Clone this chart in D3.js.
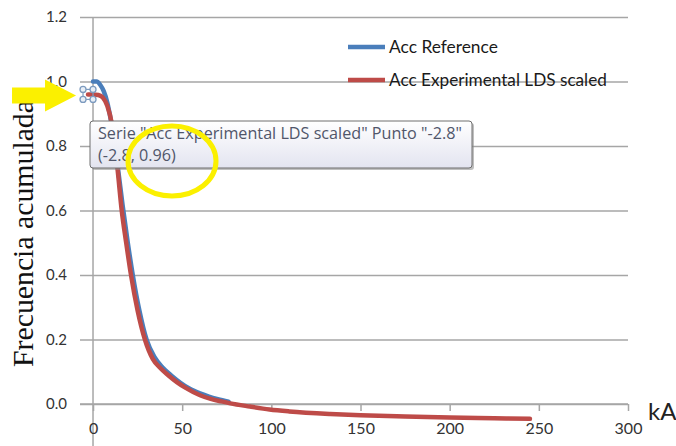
<!DOCTYPE html>
<html>
<head>
<meta charset="utf-8">
<script src="https://cdn.jsdelivr.net/npm/d3@7"></script>
<style>
  html, body { margin: 0; padding: 0; background: #fff; }
  svg { display: block; }
</style>
</head>
<body>
<svg id="chart" width="676" height="446"></svg>
<script>
// ---- data ----
const refX = [0, 2, 4, 6, 8, 10, 12, 14, 16.5, 19.5, 22.3, 26, 30, 34.5, 39, 44, 49, 54, 60, 65, 70, 76];
const refY = [1.0, 1.0, 0.99, 0.97, 0.935, 0.88, 0.81, 0.73, 0.62, 0.50, 0.40, 0.29, 0.20, 0.145, 0.113, 0.088, 0.066, 0.048, 0.033, 0.023, 0.015, 0.007];

const expX = [-2.8, 0, 3, 5.5, 8, 10.5, 12.3, 13.8, 16.1, 18.6, 21.3, 25, 29.1, 33.5, 38, 42, 47, 52, 60, 66, 72, 77, 88, 99, 110, 133, 150, 175, 200, 225, 245];
const expY = [0.96, 0.96, 0.958, 0.95, 0.925, 0.87, 0.80, 0.726, 0.60, 0.50, 0.40, 0.29, 0.20, 0.14, 0.11, 0.09, 0.068, 0.05, 0.027, 0.016, 0.008, 0.002, -0.008, -0.017, -0.023, -0.031, -0.035, -0.039, -0.042, -0.044, -0.046];

const xTicks = [0, 50, 100, 150, 200, 250, 300];
const yTicks = [0.0, 0.2, 0.4, 0.6, 0.8, 1.0, 1.2];
const yTickLabels = ["0.0", "0.2", "0.4", "0.6", "0.8", "1.0", "1.2"];

const seriesNames = ["Acc Reference", "Acc Experimental LDS scaled"];
const seriesColors = ["#4a7ebb", "#be4b48"];
const selectedPoint = { x: -2.8, y: 0.96 };
const tooltipLines = ['Serie "Acc Experimental LDS scaled" Punto "-2.8"', '(-2.8, 0.96)'];
const yTitle = "Frecuencia acumulada";
const xTitle = "kA";

// ---- layout ----
const svg = d3.select("#chart");
const plotLeft = 80, plotRight = 628;
const x = d3.scaleLinear().domain([-7.3, 300]).range([plotLeft, plotRight]);
const y = d3.scaleLinear().domain([-0.2, 1.2]).range([468.5, 17]);

const gridColor = "#a6a6a6";
const labelFont = "Lato, 'Open Sans', sans-serif";

function fitWidth(sel, target) {
  const w = sel.node().getComputedTextLength();
  const fs = parseFloat(sel.attr("font-size"));
  sel.attr("font-size", (fs * target / w).toFixed(2));
}

// horizontal gridlines + y tick labels via axis
const yAxis = d3.axisLeft(y)
  .tickValues(yTicks)
  .tickFormat((d, i) => yTickLabels[i])
  .tickSizeInner(-(plotRight - plotLeft))
  .tickSizeOuter(0)
  .tickPadding(13);
const gy = svg.append("g").attr("transform", `translate(${plotLeft},0)`).call(yAxis);
gy.select(".domain").remove();
gy.selectAll(".tick line").attr("stroke", gridColor).attr("stroke-width", 1.5);
gy.selectAll(".tick text")
  .attr("font-family", labelFont).attr("font-size", 15).attr("fill", "#333");

// vertical zero line (y axis)
svg.append("line")
  .attr("x1", x(0)).attr("x2", x(0))
  .attr("y1", y(1.2)).attr("y2", 446)
  .attr("stroke", gridColor).attr("stroke-width", 1.5);

// x axis at y=0
const xAxis = d3.axisBottom(x)
  .tickValues(xTicks)
  .tickFormat(d3.format("d"))
  .tickSizeInner(7)
  .tickSizeOuter(0)
  .tickPadding(12);
const gx = svg.append("g").attr("transform", `translate(0,${y(0)})`).call(xAxis);
gx.select(".domain").attr("stroke", gridColor).attr("stroke-width", 1.5)
  .attr("d", `M${plotLeft},0H${plotRight}`);
gx.selectAll(".tick line").attr("stroke", gridColor).attr("stroke-width", 1.5);
gx.selectAll(".tick text")
  .attr("font-family", labelFont).attr("font-size", 16).attr("fill", "#333");

// x title
svg.append("text")
  .attr("x", x(300) + 20).attr("y", y(0) + 16)
  .attr("font-family", labelFont).attr("font-size", 24).attr("fill", "#222")
  .text(xTitle);

// y title
const yt = svg.append("text")
  .attr("transform", `translate(33,${(367 + 100) / 2}) rotate(-90)`)
  .attr("text-anchor", "middle")
  .attr("font-family", "'Liberation Serif', 'Times New Roman', serif")
  .attr("font-size", 29).attr("fill", "#111")
  .text(yTitle);
fitWidth(yt, 267);

// lines
const line = d3.line().x(d => x(d[0])).y(d => y(d[1])).curve(d3.curveMonotoneX);
const refData = refX.map((v, i) => [v, refY[i]]);
const expData = expX.map((v, i) => [v, expY[i]]);
svg.append("path").datum(refData).attr("d", line)
  .attr("fill", "none").attr("stroke", seriesColors[0]).attr("stroke-width", 4.5)
  .attr("stroke-linejoin", "round").attr("stroke-linecap", "round");
svg.append("path").datum(expData).attr("d", line)
  .attr("fill", "none").attr("stroke", seriesColors[1]).attr("stroke-width", 4.5)
  .attr("stroke-linejoin", "round").attr("stroke-linecap", "round");

// legend
const legendY = [47, 80];
seriesNames.forEach((name, i) => {
  svg.append("line")
    .attr("x1", 348).attr("x2", 385).attr("y1", legendY[i]).attr("y2", legendY[i])
    .attr("stroke", seriesColors[i]).attr("stroke-width", 4.5);
  const t = svg.append("text")
    .attr("x", 389).attr("y", legendY[i] + 6)
    .attr("font-family", labelFont).attr("font-size", 17).attr("fill", "#1a1a1a")
    .text(name);
  fitWidth(t, i === 0 ? 109 : 218);
});

// selection handles around the selected point
const px = x(selectedPoint.x), py = y(selectedPoint.y);
const hs = svg.append("g");
hs.append("rect").attr("x", px - 5).attr("y", py - 5).attr("width", 10).attr("height", 10)
  .attr("fill", "none").attr("stroke", "#7d9bbf").attr("stroke-width", 1.2);
[[-5, -5], [5, -5], [-5, 5], [5, 5]].forEach(([dx, dy]) => {
  hs.append("circle").attr("cx", px + dx).attr("cy", py + dy).attr("r", 3)
    .attr("fill", "#e8eef6").attr("stroke", "#7d9bbf").attr("stroke-width", 1.3);
});

// tooltip
const defs = svg.append("defs");
const grad = defs.append("linearGradient").attr("id", "tipGrad")
  .attr("x1", 0).attr("y1", 0).attr("x2", 0).attr("y2", 1);
grad.append("stop").attr("offset", "0%").attr("stop-color", "#ffffff");
grad.append("stop").attr("offset", "100%").attr("stop-color", "#e3e4f0");
const tipX = 90, tipY = 121, tipW = 382, tipH = 47;
svg.append("rect").attr("x", tipX + 2).attr("y", tipY + 2).attr("width", tipW).attr("height", tipH)
  .attr("rx", 3).attr("fill", "#8a8a8a").attr("opacity", 0.55);
svg.append("rect").attr("x", tipX).attr("y", tipY).attr("width", tipW).attr("height", tipH)
  .attr("rx", 3).attr("fill", "url(#tipGrad)").attr("stroke", "#6e6e6e").attr("stroke-width", 1);
const tl1 = svg.append("text").attr("x", 98).attr("y", 139)
  .attr("font-family", "'Open Sans', sans-serif").attr("font-size", 15).attr("fill", "#50566a")
  .text(tooltipLines[0]);
fitWidth(tl1, 364);
const tl2 = svg.append("text").attr("x", 98).attr("y", 161)
  .attr("font-family", "'Open Sans', sans-serif").attr("font-size", tl1.attr("font-size")).attr("fill", "#50566a")
  .text(tooltipLines[1]);

// yellow annotations
svg.append("ellipse").attr("cx", 172).attr("cy", 161).attr("rx", 44).attr("ry", 35)
  .attr("fill", "none").attr("stroke", "#fbf000").attr("stroke-width", 5);
const tipXa = px - 12, tipYa = py + 1;
svg.append("path")
  .attr("d", `M${tipXa - 64},${tipYa - 8} L${tipXa - 31},${tipYa - 8} L${tipXa - 31},${tipYa - 16}
              L${tipXa},${tipYa} L${tipXa - 31},${tipYa + 16} L${tipXa - 31},${tipYa + 8}
              L${tipXa - 64},${tipYa + 8} Z`)
  .attr("fill", "#fbf000");
</script>
</body>
</html>
